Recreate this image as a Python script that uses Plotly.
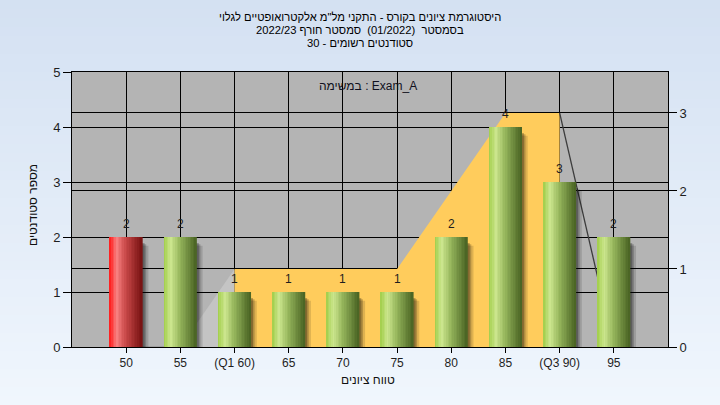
import plotly.graph_objects as go

# ---------------- data ----------------
categories = ["50", "55", "(Q1 60)", "65", "70", "75", "80", "85", "(Q3 90)", "95"]
counts = [2, 2, 1, 1, 1, 1, 2, 4, 3, 2]
area_values = [0, 0, 1, 1, 1, 1, 2, 3, 3, 0]
q1_index = 2
q3_index = 8
bar_kinds = ["red", "green", "green", "green", "green", "green", "green", "green", "green", "green"]
left_ticks = [0, 1, 2, 3, 4, 5]
right_ticks = [0, 1, 2, 3]

title_lines = [
    "היסטוגרמת ציונים בקורס - התקני מל\"מ אלקטרואופטיים לגלוי",
    "בסמסטר  (01/2022)  סמסטר חורף 2022/23",
    "סטודנטים רשומים - 30",
]
task_label = "במשימה : Exam_A"
x_title = "טווח ציונים"
y_title = "מספר סטודנטים"

# ---------------- layout helpers ----------------
W, H = 720, 405
L, R, T, B = 72, 52, 72, 58
PW, PH = W - L - R, H - T - B


def px(x):
    return (x - L) / PW


def py(y):
    return (H - B - y) / PH


FONT = "Liberation Sans, Arial, DejaVu Sans, sans-serif"

grad_stops = {
    "green": [(0.0, (160, 205, 72)), (0.22, (204, 230, 142)), (0.5, (150, 182, 92)), (1.0, (72, 98, 34))],
    "red": [(0.0, (255, 22, 22)), (0.22, (248, 128, 128)), (0.5, (200, 72, 72)), (1.0, (118, 16, 16))],
}


def grad(kind, t):
    stops = grad_stops[kind]
    for (t0, c0), (t1, c1) in zip(stops[:-1], stops[1:]):
        if t0 <= t <= t1:
            f = (t - t0) / (t1 - t0)
            c = [round(a + (b - a) * f) for a, b in zip(c0, c1)]
            return "rgb(%d,%d,%d)" % tuple(c)
    return "rgb(%d,%d,%d)" % stops[-1][1]


fig = go.Figure()

# ---- background area series (right axis, base subplot) ----
fig.add_trace(go.Scatter(
    x=categories[0:q1_index], y=area_values[0:q1_index], mode="lines",
    line=dict(color="#8a8a8a", width=1), hoverinfo="skip", yaxis="y"))
fig.add_trace(go.Scatter(
    x=categories[q1_index - 1:q1_index + 1], y=area_values[q1_index - 1:q1_index + 1],
    mode="lines", line=dict(width=0), fill="tozeroy", fillcolor="#c4c4c4",
    hoverinfo="skip", yaxis="y"))
fig.add_trace(go.Scatter(
    x=categories[q1_index:q3_index + 1], y=area_values[q1_index:q3_index + 1],
    mode="lines", line=dict(width=0), fill="tozeroy", fillcolor="#ffcc5c",
    hoverinfo="skip", yaxis="y"))
fig.add_trace(go.Scatter(
    x=categories[q3_index:q3_index + 2], y=area_values[q3_index:q3_index + 2],
    mode="lines", line=dict(color="#3c3c3c", width=1.3), hoverinfo="skip", yaxis="y"))

# ---- bars (left axis, overlay subplot) ----
BW = 0.60
shadow_specs = [(0.11, "rgba(0,0,0,0.13)", 0.10), (0.07, "rgba(0,0,0,0.20)", 0.07), (0.04, "rgba(0,0,0,0.25)", 0.05)]
for shift, col, drop in shadow_specs:
    fig.add_trace(go.Bar(
        x=categories, y=[c - drop for c in counts], base=-0.06,
        width=BW, offset=-BW / 2 + shift, marker=dict(color=col, line=dict(width=0)),
        hoverinfo="skip", yaxis="y2"))

N = 20
for i in range(N):
    t = (i + 0.5) / N
    fig.add_trace(go.Bar(
        x=categories, y=counts, width=BW / N * 1.15, offset=-BW / 2 + i * BW / N,
        marker=dict(color=[grad(k, t) for k in bar_kinds], line=dict(width=0)),
        hoverinfo="skip", yaxis="y2"))

annotations = []
for idx, c in enumerate(counts):
    annotations.append(dict(x=idx, y=c, xref="x", yref="y2", text=str(c), showarrow=False,
                            xanchor="center", yanchor="middle",
                            yshift=13, font=dict(family=FONT, size=12, color="#1e1e1e")))

title_y = [17, 30, 43]
for line, ypos in zip(title_lines, title_y):
    annotations.append(dict(x=px(360), xref="paper", y=py(ypos), yref="paper", text=line,
                            showarrow=False, xanchor="center", yanchor="middle",
                            font=dict(family=FONT, size=11.2, color="#000000")))

annotations.append(dict(x=px(368), y=py(86), xref="paper", yref="paper", text=task_label,
                        showarrow=False, xanchor="center", yanchor="middle",
                        font=dict(family=FONT, size=12, color="#101020")))
annotations.append(dict(x=px(368), y=py(380), xref="paper", yref="paper", text=x_title,
                        showarrow=False, xanchor="center", yanchor="middle",
                        font=dict(family=FONT, size=12, color="#101010")))
annotations.append(dict(x=px(33), y=py(205), xref="paper", yref="paper", text=y_title,
                        textangle=-90, showarrow=False, xanchor="center", yanchor="middle",
                        font=dict(family=FONT, size=12, color="#101010")))

# ---- background gradient + plot area ----
shapes = []
NS = 45
top_c = (212, 225, 242)
bot_c = (240, 246, 253)
for i in range(NS):
    f = i / (NS - 1)
    c = tuple(round(a + (b - a) * f) for a, b in zip(top_c, bot_c))
    y0 = H * i / NS
    y1 = H * (i + 1) / NS + 1
    shapes.append(dict(type="rect", xref="paper", yref="paper", layer="below",
                       x0=px(-5), x1=px(W + 5), y0=py(y1), y1=py(y0),
                       line=dict(width=0), fillcolor="rgb(%d,%d,%d)" % c))
shapes.append(dict(type="rect", xref="paper", yref="paper", layer="below",
                   x0=0, x1=1, y0=0, y1=1, line=dict(width=0), fillcolor="#b4b4b4"))

fig.update_layout(
    width=W, height=H,
    margin=dict(l=L, r=R, t=T, b=B),
    paper_bgcolor="rgb(226,235,247)",
    plot_bgcolor="rgba(0,0,0,0)",
    barmode="overlay",
    showlegend=False,
    font=dict(family=FONT, size=12, color="#1e1e1e"),
    xaxis=dict(type="category", categoryorder="array", categoryarray=categories,
               range=[-1, len(categories)], showgrid=True, gridcolor="#000000", gridwidth=1,
               showline=True, linecolor="#000000", linewidth=1, mirror=True,
               ticks="outside", ticklen=5, tickcolor="#000000",
               tickfont=dict(family=FONT, size=12, color="#1e1e1e"), fixedrange=True),
    yaxis=dict(side="right", range=[0, 3.525], tickvals=right_ticks,
               showgrid=True, gridcolor="#000000", gridwidth=1, zeroline=False,
               showline=True, linecolor="#000000", linewidth=1, mirror=True,
               ticks="outside", ticklen=8, tickcolor="#000000",
               tickfont=dict(family=FONT, size=13, color="#1e1e1e"), fixedrange=True),
    yaxis2=dict(side="left", overlaying="y", range=[0, 5], tickvals=left_ticks,
                showgrid=True, gridcolor="#000000", gridwidth=1, zeroline=False,
                showline=False, ticks="outside", ticklen=8, tickcolor="#000000",
                tickfont=dict(family=FONT, size=13, color="#1e1e1e"), fixedrange=True),
    annotations=annotations,
    shapes=shapes,
)

fig.write_html("out.html", config={"displayModeBar": False},
               post_script="document.body.style.margin='0';document.body.style.overflow='hidden';")
